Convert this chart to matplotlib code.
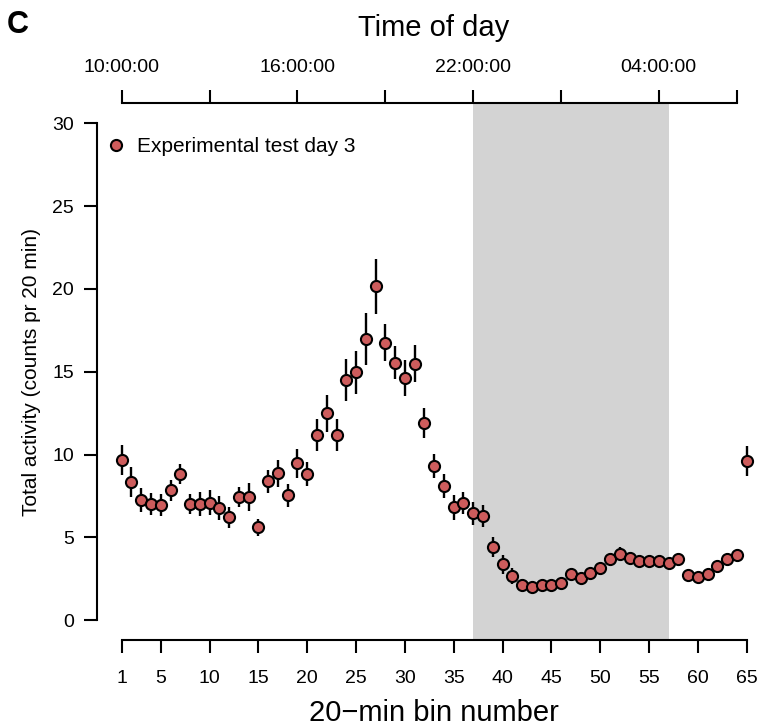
import numpy as np
import matplotlib.pyplot as plt

plt.rcParams['font.family'] = ['Liberation Sans', 'DejaVu Sans']

# 20-min bins, mean activity and error
bins = np.arange(1, 66)
activity = [9.65, 8.33, 7.25, 7.03, 6.95, 7.83, 8.82, 7.0, 7.0, 7.1,
            6.78, 6.22, 7.43, 7.43, 5.6, 8.38, 8.86, 7.53, 9.46, 8.82,
            11.19, 12.48, 11.19, 14.5, 14.96, 16.97, 20.15, 16.75, 15.54, 14.62,
            15.48, 11.92, 9.30, 8.11, 6.81, 7.07, 6.44, 6.29, 4.41, 3.38,
            2.68, 2.11, 2.03, 2.15, 2.11, 2.25, 2.78, 2.56, 2.84, 3.14,
            3.71, 3.99, 3.78, 3.60, 3.58, 3.56, 3.42, 3.71, 2.75, 2.58,
            2.80, 3.26, 3.68, 3.95, 9.6]
err = [0.9, 0.9, 0.71, 0.66, 0.65, 0.66, 0.63, 0.6, 0.73, 0.75,
       0.73, 0.63, 0.61, 0.85, 0.52, 0.7, 0.83, 0.7, 0.88, 0.7,
       0.95, 1.1, 0.95, 1.25, 1.3, 1.55, 1.65, 1.1, 1.0, 1.07,
       1.12, 0.9, 0.73, 0.73, 0.75, 0.66, 0.68, 0.67, 0.6, 0.57,
       0.47, 0.35, 0.3, 0.3, 0.3, 0.3, 0.3, 0.3, 0.3, 0.3,
       0.35, 0.42, 0.35, 0.3, 0.3, 0.3, 0.3, 0.3, 0.3, 0.3,
       0.3, 0.3, 0.3, 0.35, 0.9]

bottom_ticks = [1, 5, 10, 15, 20, 25, 30, 35, 40, 45, 50, 55, 60, 65]
top_ticks = [1, 10, 19, 28, 37, 46, 56, 64]
top_labels = ['10:00:00', '', '16:00:00', '', '22:00:00', '', '04:00:00', '']
dark_start, dark_end = 37, 57

fig = plt.figure(figsize=(7.6, 7.27), dpi=100)
ax = fig.add_axes([96.7/760, 87/727, 675/760, 536.6/727])

ax.axvspan(dark_start, dark_end, color='lightgrey', lw=0, zorder=0)
ax.errorbar(bins, activity, yerr=err, fmt='none', ecolor='black',
            elinewidth=1.7, capsize=0, zorder=2)
ax.plot(bins, activity, 'o', ms=8, mfc='indianred', mec='black', mew=1.5,
        zorder=3, label='Experimental test day 3')

ax.set_xlim(1 - 0.04*64, 65 + 0.04*64)
ax.set_ylim(-1.2, 31.2)

for s in ['top', 'right']:
    ax.spines[s].set_visible(False)
ax.spines['left'].set_bounds(0, 30)
ax.spines['bottom'].set_bounds(1, 65)
for s in ['left', 'bottom']:
    ax.spines[s].set_linewidth(1.5)
ax.set_yticks([0, 5, 10, 15, 20, 25, 30])
ax.set_xticks(bottom_ticks)
ax.tick_params(length=9.5, width=1.5, labelsize=14, pad=7)
ax.tick_params(axis='x', pad=12)
ax.set_ylabel('Total activity (counts pr 20 min)', fontsize=15, labelpad=8)

ax2 = ax.twiny()
ax2.set_xlim(ax.get_xlim())
for s in ['bottom', 'right', 'left']:
    ax2.spines[s].set_visible(False)
ax2.spines['top'].set_bounds(1, 64)
ax2.spines['top'].set_linewidth(1.5)
ax2.set_xticks(top_ticks)
ax2.set_xticklabels(top_labels)
ax2.tick_params(length=9.5, width=1.5, labelsize=14, pad=10)

fig.text(434/760, 1 - 713/727, '20\u2212min bin number', fontsize=21,
         ha='center', va='center')
fig.text(434/760, 1 - 28/727, 'Time of day', fontsize=21,
         ha='center', va='center')
fig.text(18/760, 1 - 25/727, 'C', fontsize=22, fontweight='bold',
         ha='center', va='center')

ax.legend(loc='upper left', bbox_to_anchor=(105.6/760, 1 - 137/727),
          bbox_transform=fig.transFigure, frameon=False, fontsize=15,
          handlelength=1, handletextpad=0.5, borderpad=0, borderaxespad=0)

fig.savefig('out.png', dpi=100)
